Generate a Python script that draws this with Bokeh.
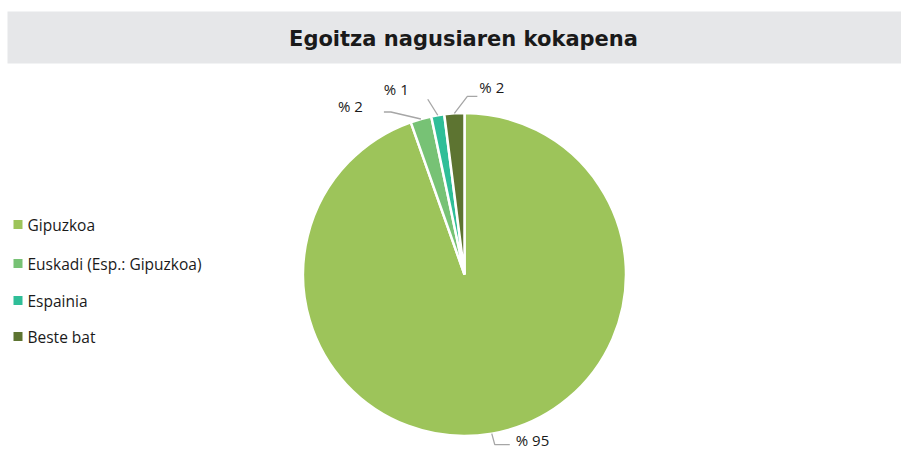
import math
from bokeh.plotting import figure
from bokeh.models import Range1d, ColumnDataSource
from bokeh.core.properties import value
from bokeh.embed import file_html
from bokeh.resources import INLINE

# ---- data ----
categories = ["Gipuzkoa", "Euskadi (Esp.: Gipuzkoa)", "Espainia", "Beste bat"]
shares = [94.6, 2.1, 1.3, 2.0]
colors = ["#9DC45A", "#77C275", "#2FBE98", "#5D7431"]
title_text = "Egoitza nagusiaren kokapena"

W, H = 901, 450
p = figure(width=W, height=H, x_range=Range1d(0, W), y_range=Range1d(0, H),
           output_backend="svg", toolbar_location=None, min_border=0)
p.axis.visible = False
p.grid.visible = False
p.outline_line_color = None
p.background_fill_color = "white"
p.border_fill_color = "white"

def px(x):
    return x
def py(y):
    return H - y

# title band
p.quad(left=[px(7)], right=[W], bottom=[py(63)], top=[py(11)], fill_color="#E6E7E9", line_color=None)
p.text(x=[px(463)], y=[py(38)], text=[title_text], text_align="center", text_baseline="middle",
       text_font=value("DejaVu Sans"), text_font_style="bold", text_font_size="21px", text_color="#1A1A1A")

# pie
cx, cy, R = px(464), py(274), 161.5
total = sum(shares)
starts, ends, mids = [], [], []
cum = 0.0
for s in shares:
    a0 = math.pi / 2 - 2 * math.pi * cum / total
    cum += s
    a1 = math.pi / 2 - 2 * math.pi * cum / total
    starts.append(a0)
    ends.append(a1)
    mids.append((a0 + a1) / 2)

src = ColumnDataSource(dict(start=starts, end=ends, color=colors))
p.wedge(x=cx, y=cy, radius=R, start_angle="start", end_angle="end", direction="clock",
        fill_color="color", line_color="white", line_width=2.5, source=src)

# labels with leader lines (elbow offsets, horizontal tail, text anchor offsets)
elbow = [(3, -11), (-30, 7), (-10, 16), (13, 17)]
tail = [15, -7, 0, 10]
lab_off = [(21, 5), (-28, 6), (-19, 10), (12, 9)]
lab_align = ["left", "right", "right", "left"]
labels = ["% " + str(int(round(s))) for s in shares]

for i, m in enumerate(mids):
    ex, ey = cx + R * math.cos(m), cy + R * math.sin(m)
    bx, by = ex + elbow[i][0], ey + elbow[i][1]
    tx = bx + tail[i]
    p.line(x=[ex, bx, tx], y=[ey, by, by], line_color="#A6A6A6", line_width=1.3)
    p.text(x=[bx + lab_off[i][0]], y=[by + lab_off[i][1]], text=[labels[i]],
           text_align=lab_align[i], text_baseline="middle",
           text_font=value("Open Sans"), text_font_size="15px", text_color="#1A1A1A")

# legend
leg_y = [224, 263, 300, 336]
p.scatter(x=[px(17.5)] * 4, y=[py(v) for v in leg_y], marker="square", size=9,
          fill_color=colors, line_color=None)
p.text(x=[px(27)] * 4, y=[py(v) for v in leg_y], text=categories, text_baseline="middle",
       text_font=value("Open Sans"), text_font_size="15.5px", text_color="#1A1A1A")

open("out.html", "w").write(file_html(p, INLINE))
